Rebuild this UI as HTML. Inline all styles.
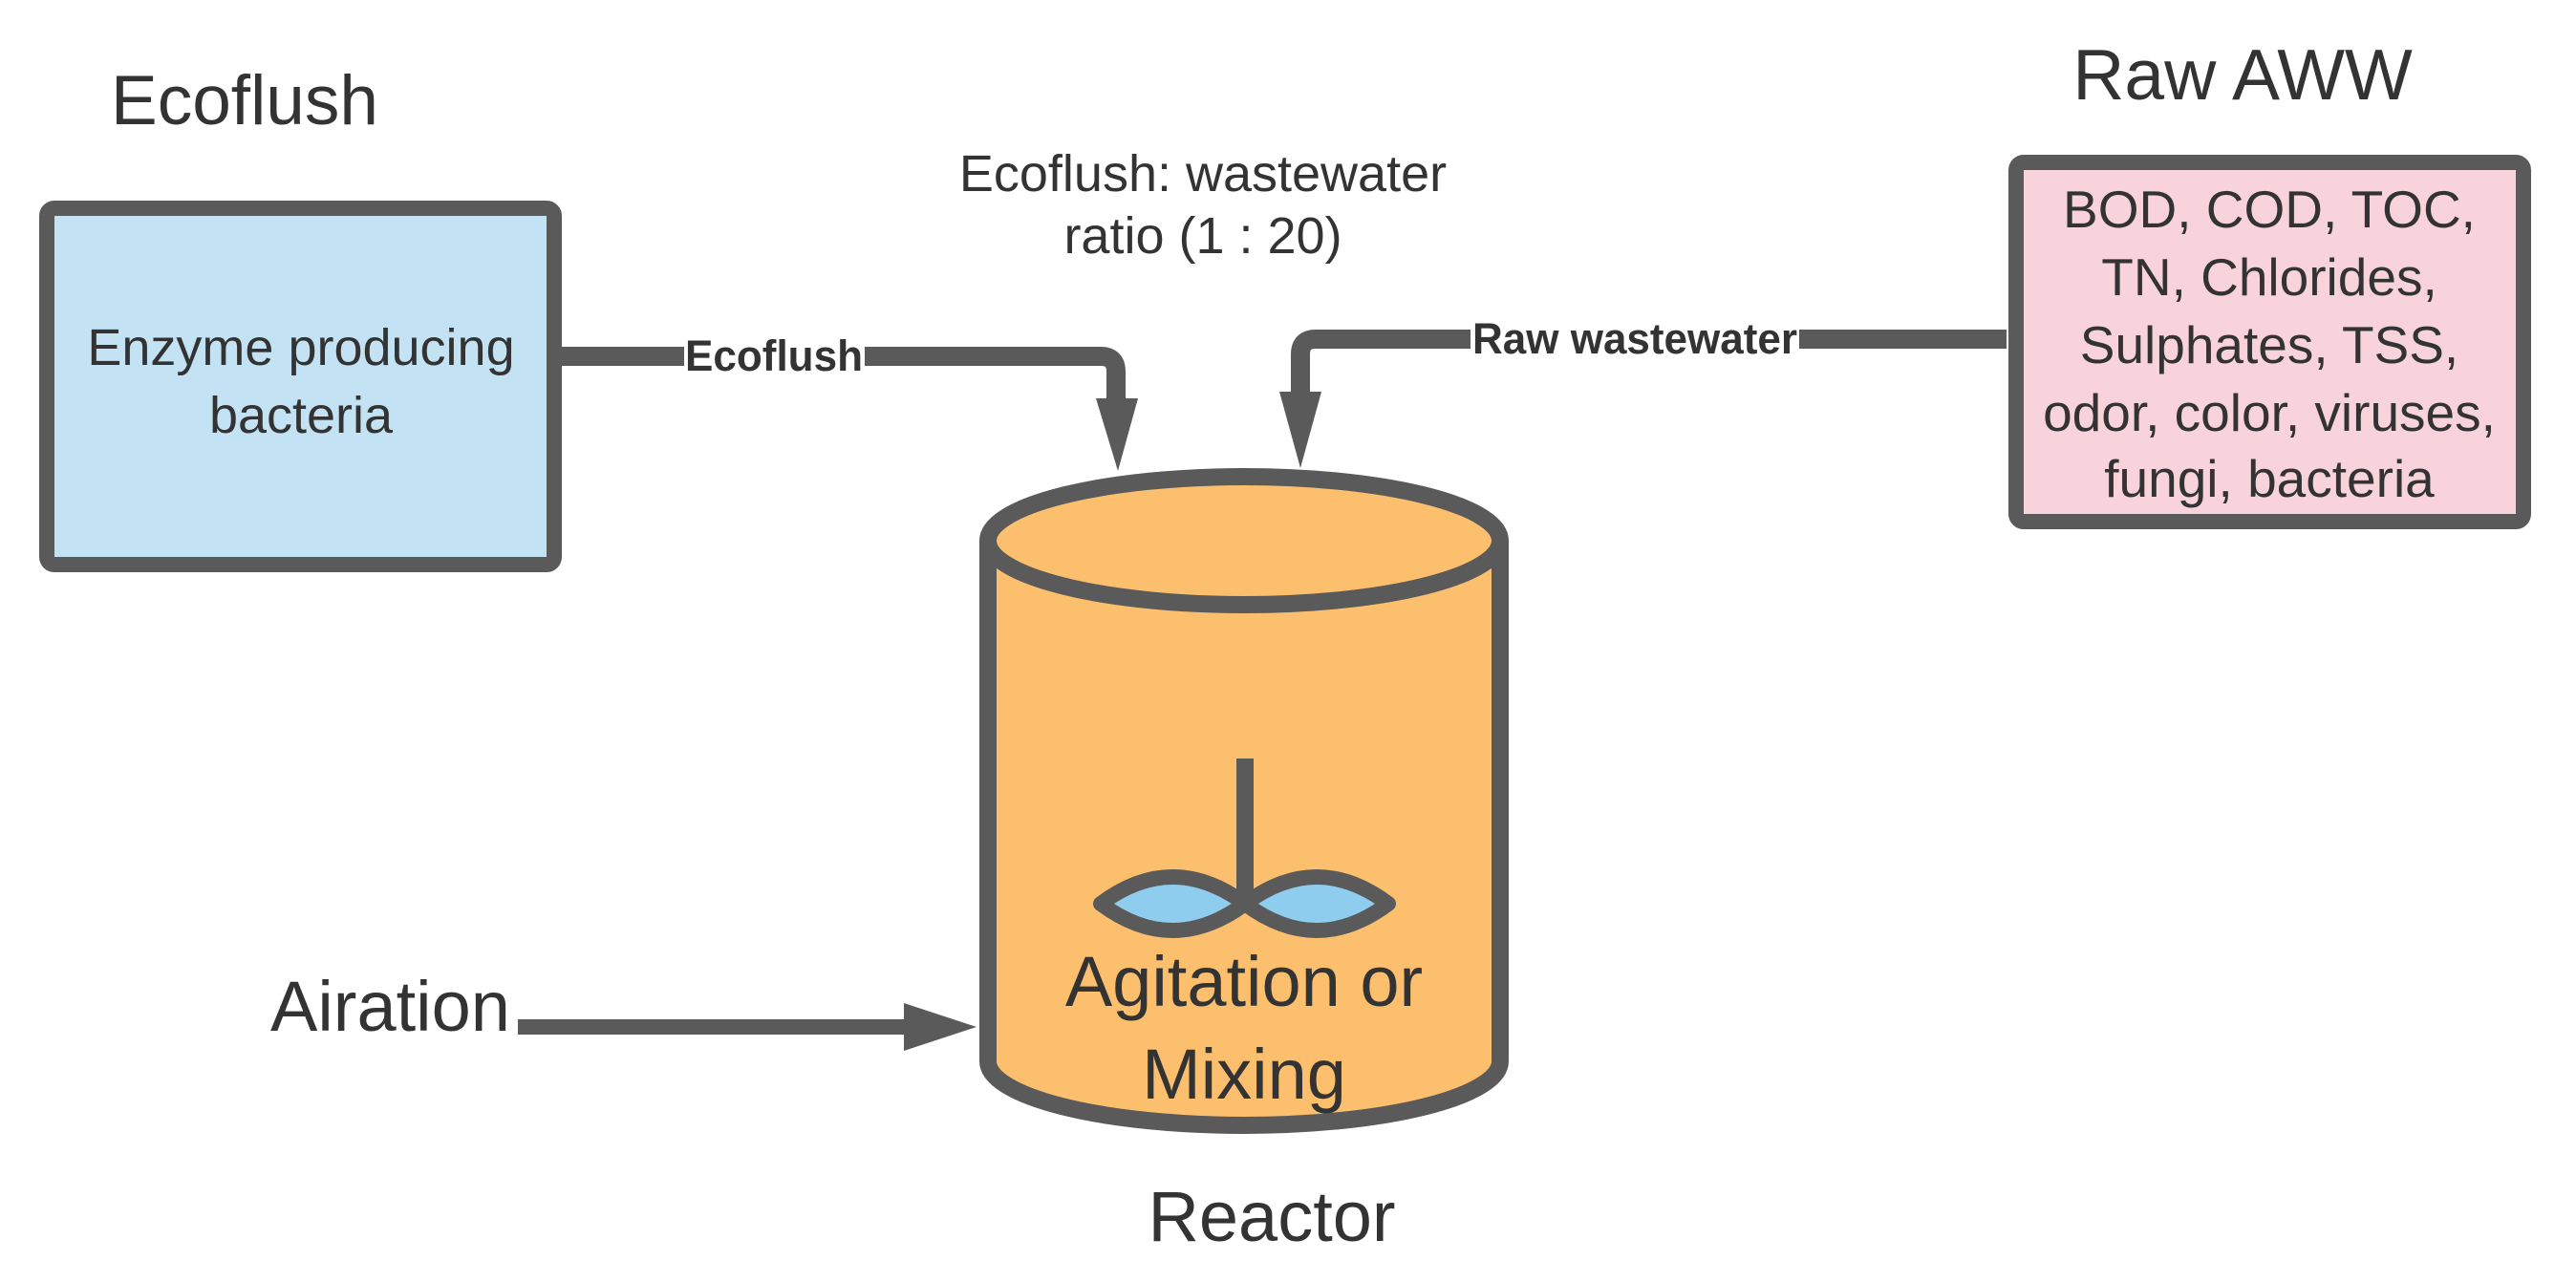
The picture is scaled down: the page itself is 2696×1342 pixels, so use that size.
<!DOCTYPE html>
<html><head><meta charset="utf-8"><style>
html,body{margin:0;padding:0;background:#fff;}
svg{display:block;}
text{font-family:"Liberation Sans",sans-serif;fill:#333;}
</style></head><body>
<svg width="2696" height="1342" viewBox="0 0 2696 1342" xmlns="http://www.w3.org/2000/svg">
<!-- Ecoflush box -->
<rect x="49" y="218" width="531" height="373" rx="8" fill="#c3e3f4" stroke="#5a5a5a" stroke-width="16"/>
<text x="116" y="130" font-size="73" fill="#333">Ecoflush</text>
<text x="315" y="382" font-size="54" text-anchor="middle">Enzyme producing</text>
<text x="315" y="453" font-size="54" text-anchor="middle">bacteria</text>
<!-- Raw AWW box -->
<rect x="2110" y="170" width="531" height="376" rx="8" fill="#f8d3dc" stroke="#5a5a5a" stroke-width="16"/>
<text x="2347" y="104" font-size="75" text-anchor="middle">Raw AWW</text>
<g font-size="55" text-anchor="middle">
<text x="2375" y="238">BOD, COD, TOC,</text>
<text x="2375" y="309">TN, Chlorides,</text>
<text x="2375" y="380">Sulphates, TSS,</text>
<text x="2375" y="451">odor, color, viruses,</text>
<text x="2375" y="520">fungi, bacteria</text>
</g>
<!-- ratio -->
<text x="1259" y="200" font-size="54" text-anchor="middle">Ecoflush: wastewater</text>
<text x="1259" y="265" font-size="54" text-anchor="middle">ratio (1 : 20)</text>
<!-- Ecoflush arrow -->
<path d="M588 373 H1152 Q1168 373 1168 389 V420" fill="none" stroke="#5a5a5a" stroke-width="20"/>
<polygon points="1147,417 1191,417 1170,493" fill="#5a5a5a"/>
<rect x="716" y="348" width="189" height="50" fill="#fff"/>
<text x="810" y="388" font-size="45" font-weight="bold" text-anchor="middle" textLength="186" lengthAdjust="spacingAndGlyphs">Ecoflush</text>
<!-- Raw wastewater arrow -->
<path d="M2100 355 H1377 Q1361 355 1361 371 V415" fill="none" stroke="#5a5a5a" stroke-width="20"/>
<polygon points="1339,410 1383,410 1361,490" fill="#5a5a5a"/>
<rect x="1539" y="330" width="344" height="50" fill="#fff"/>
<text x="1711" y="370" font-size="45" font-weight="bold" text-anchor="middle" textLength="340" lengthAdjust="spacingAndGlyphs">Raw wastewater</text>
<!-- Reactor cylinder -->
<path d="M1034 566 V1111 A268 67 0 0 0 1570 1111 V566" fill="#fbbf6e" stroke="#5a5a5a" stroke-width="18"/>
<ellipse cx="1302" cy="566" rx="268" ry="67" fill="#fbbf6e" stroke="#5a5a5a" stroke-width="18"/>
<!-- stirrer -->
<rect x="1294" y="794" width="18" height="150" fill="#5a5a5a"/>
<path d="M1152 946 Q1227 890 1303 946 Q1378 890 1453 946 Q1378 1002 1303 946 Q1227 1002 1152 946 Z" fill="#8fcdef" stroke="#5a5a5a" stroke-width="16" stroke-linejoin="round"/>
<text x="1302" y="1053" font-size="74" text-anchor="middle">Agitation or</text>
<text x="1302" y="1150" font-size="74" text-anchor="middle">Mixing</text>
<text x="1331" y="1299" font-size="74" text-anchor="middle">Reactor</text>
<!-- Airation -->
<text x="283" y="1079" font-size="74">Airation</text>
<line x1="542" y1="1075" x2="960" y2="1075" stroke="#5a5a5a" stroke-width="16"/>
<polygon points="946,1050 946,1100 1022,1075" fill="#5a5a5a"/>
</svg>
</body></html>
